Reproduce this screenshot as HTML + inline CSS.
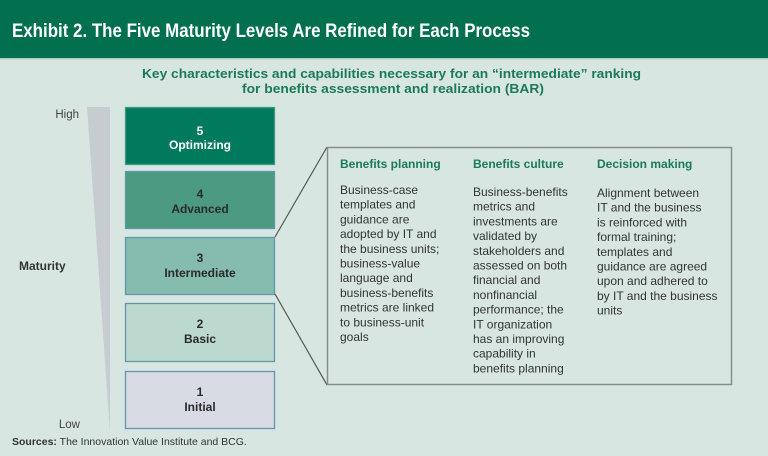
<!DOCTYPE html>
<html><head><meta charset="utf-8"><style>
html,body{margin:0;padding:0;background:#d8e6e2;}
svg{display:block;}
text{font-family:"Liberation Sans",sans-serif;}
</style></head><body>
<svg width="768" height="456" viewBox="0 0 768 456" xmlns="http://www.w3.org/2000/svg">
<rect x="0" y="0" width="768" height="456" fill="#d8e6e2"/>
<rect x="0" y="0" width="768" height="58" fill="#02704f"/>
<rect x="0" y="58" width="768" height="1.5" fill="#a9cfc1"/>
<text x="12" y="37" font-size="19" font-weight="bold" fill="#ffffff" textLength="518" lengthAdjust="spacingAndGlyphs">Exhibit 2. The Five Maturity Levels Are Refined for Each Process</text>
<text x="142" y="78" font-size="13" font-weight="bold" fill="#1b7a57" textLength="499" lengthAdjust="spacingAndGlyphs">Key characteristics and capabilities necessary for an “intermediate” ranking</text>
<text x="242" y="93" font-size="13" font-weight="bold" fill="#1b7a57" textLength="302" lengthAdjust="spacingAndGlyphs">for benefits assessment and realization (BAR)</text>

<!-- wedge -->
<polygon points="87,107 110,107 110,432" fill="#c6ccd0"/>
<text x="79" y="118" font-size="11.5" fill="#444" text-anchor="end">High</text>
<text x="80" y="428" font-size="11.5" fill="#444" text-anchor="end">Low</text>
<text x="19" y="270" font-size="12" font-weight="bold" fill="#333">Maturity</text>

<!-- boxes -->
<g stroke="#6197ab" stroke-width="1.3">
<rect x="125.5" y="107.5" width="149" height="57" fill="#00795d" stroke="#3f9a80"/>
<rect x="125.5" y="171.5" width="149" height="57" fill="#4b9a81"/>
<rect x="125.5" y="237.5" width="149" height="57" fill="#86bcad"/>
<rect x="125.5" y="303.5" width="149" height="58" fill="#bcd9cf"/>
<rect x="125.5" y="371.5" width="149" height="57" fill="#d8dbe3"/>
</g>
<g font-size="12" font-weight="bold" text-anchor="middle">
<text x="200" y="135" fill="#ffffff">5</text>
<text x="200" y="149" fill="#ffffff">Optimizing</text>
<text x="200" y="198" fill="#2a2a2a">4</text>
<text x="200" y="213" fill="#2a2a2a">Advanced</text>
<text x="200" y="262" fill="#2a2a2a">3</text>
<text x="200" y="277" fill="#2a2a2a">Intermediate</text>
<text x="200" y="328" fill="#2a2a2a">2</text>
<text x="200" y="343" fill="#2a2a2a">Basic</text>
<text x="200" y="396" fill="#2a2a2a">1</text>
<text x="200" y="411" fill="#2a2a2a">Initial</text>
</g>

<!-- connectors -->
<line x1="275" y1="237" x2="327" y2="147" stroke="#555" stroke-width="1.2"/>
<line x1="275" y1="294" x2="327" y2="385" stroke="#555" stroke-width="1.2"/>
<rect x="327.5" y="147.5" width="404" height="237" fill="none" stroke="#8a8d8c" stroke-width="1.5"/>

<g font-size="12" font-weight="bold" fill="#1b7a57">
<text x="340" y="168">Benefits planning</text>
<text x="473" y="168">Benefits culture</text>
<text x="597" y="168">Decision making</text>
</g>
<g font-size="12" fill="#333">
<text x="340" y="194">Business-case</text>
<text x="340" y="208.7">templates and</text>
<text x="340" y="223.4">guidance are</text>
<text x="340" y="238.1">adopted by IT and</text>
<text x="340" y="252.8">the business units;</text>
<text x="340" y="267.5">business-value</text>
<text x="340" y="282.2">language and</text>
<text x="340" y="296.9">business-benefits</text>
<text x="340" y="311.6">metrics are linked</text>
<text x="340" y="326.3">to business-unit</text>
<text x="340" y="341">goals</text>

<text x="473" y="196">Business-benefits</text>
<text x="473" y="210.7">metrics and</text>
<text x="473" y="225.4">investments are</text>
<text x="473" y="240.1">validated by</text>
<text x="473" y="254.8">stakeholders and</text>
<text x="473" y="269.5">assessed on both</text>
<text x="473" y="284.2">financial and</text>
<text x="473" y="298.9">nonfinancial</text>
<text x="473" y="313.6">performance; the</text>
<text x="473" y="328.3">IT organization</text>
<text x="473" y="343">has an improving</text>
<text x="473" y="357.7">capability in</text>
<text x="473" y="372.4">benefits planning</text>

<text x="597" y="197">Alignment between</text>
<text x="597" y="211.7">IT and the business</text>
<text x="597" y="226.4">is reinforced with</text>
<text x="597" y="241.1">formal training;</text>
<text x="597" y="255.8">templates and</text>
<text x="597" y="270.5">guidance are agreed</text>
<text x="597" y="285.2">upon and adhered to</text>
<text x="597" y="299.9">by IT and the business</text>
<text x="597" y="314.6">units</text>
</g>

<text x="12" y="445" font-size="10.5" fill="#333"><tspan font-weight="bold">Sources:</tspan> The Innovation Value Institute and BCG.</text>
</svg>
</body></html>
